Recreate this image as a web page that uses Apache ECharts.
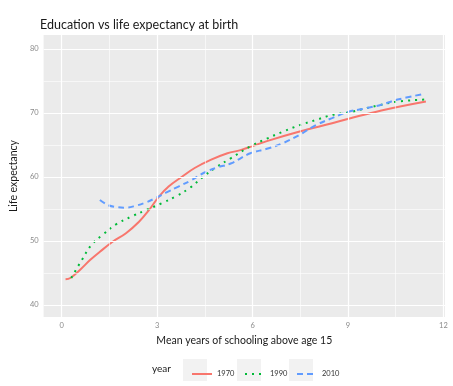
<!DOCTYPE html>
<html><head><meta charset="utf-8">
<script src="https://cdn.jsdelivr.net/npm/echarts@6/dist/echarts.min.js"></script>
<style>html,body{margin:0;padding:0;background:#fff}#c{width:453px;height:386px}</style>
</head><body><div id="c"></div>
<script>
const titleText = 'Education vs life expectancy at birth';
const xName = 'Mean years of schooling above age 15';
const yName = 'Life expectancy';
const legendTitle = 'year';
const years = ['1970', '1990', '2010'];
const xTicks = [0, 3, 6, 9, 12];
const yTicks = [40, 50, 60, 70, 80];
const xMinor = [1.5, 4.5, 7.5, 10.5];
const yMinor = [45, 55, 65, 75];

const x1970 = [0.12, 0.27, 0.58, 0.89, 1.2, 1.61, 2.02, 2.43, 2.74, 3.05, 3.36, 3.77, 4.18, 4.7, 5.21, 5.62, 6.45, 7.48, 8.5, 9.02, 10.05, 11.45];
const y1970 = [44.0, 44.2, 45.5, 47.0, 48.3, 49.9, 51.2, 53.0, 54.8, 56.9, 58.5, 60.0, 61.4, 62.7, 63.7, 64.2, 65.6, 67.1, 68.4, 69.1, 70.4, 71.8];

const x1990 = [0.3, 0.63, 0.94, 1.3, 1.71, 2.23, 2.64, 3.15, 3.6, 4.03, 4.44, 4.85, 5.31, 5.93, 6.45, 6.96, 7.48, 7.99, 8.5, 9.02, 9.53, 10.05, 10.56, 11.4];
const y1990 = [44.2, 47.0, 49.4, 51.0, 52.6, 53.9, 54.8, 55.9, 57.0, 58.3, 60.0, 61.5, 62.9, 64.8, 66.0, 67.1, 68.1, 68.9, 69.7, 70.1, 70.7, 71.3, 71.8, 72.1];

const x2010 = [1.2, 1.46, 1.71, 2.02, 2.33, 2.64, 2.95, 3.26, 3.67, 4.08, 4.49, 4.9, 5.31, 5.93, 6.45, 6.96, 7.48, 7.99, 8.5, 9.02, 9.53, 10.05, 10.56, 11.4];
const y2010 = [56.4, 55.6, 55.3, 55.2, 55.5, 56.0, 56.7, 57.5, 58.5, 59.5, 60.7, 61.5, 62.1, 63.7, 64.4, 65.3, 66.6, 68.1, 69.2, 70.2, 70.7, 71.3, 72.1, 73.0];

const zip = (xs, ys) => xs.map((x, i) => [x, ys[i]]);
const colors = ['#F8766D', '#00BA38', '#619CFF'];
const dashes = ['solid', [2, 5], [6, 4]];
const datas = [zip(x1970, y1970), zip(x1990, y1990), zip(x2010, y2010)];

const X_MIN = -0.57, X_MAX = 12.05, Y_MIN = 38.1, Y_MAX = 82.2;
const GRID = {left: 36, top: 35, right: 8, bottom: 69};
const W = 453, H = 386, TICK_PX = 3;
const xTickLen = TICK_PX * (X_MAX - X_MIN) / (W - GRID.left - GRID.right);
const yTickLen = TICK_PX * (Y_MAX - Y_MIN) / (H - GRID.top - GRID.bottom);

const chart = echarts.init(document.getElementById('c'), null, {renderer: 'canvas'});

const gridLine = (axis, vals, w) => vals.map(v => ({[axis]: v, lineStyle: {color: '#ffffff', width: w, type: 'solid'}}));
const tickStyle = {color: '#666', width: 1, type: 'solid'};
const xTickMarks = xTicks.map(v => [{coord: [v, Y_MIN], lineStyle: tickStyle}, {coord: [v, Y_MIN - yTickLen]}]);
const yTickMarks = yTicks.map(v => [{coord: [X_MIN, v], lineStyle: tickStyle}, {coord: [X_MIN - xTickLen, v]}]);

const series = [{
  type: 'line', name: '_grid', data: [], silent: true, z: 1, clip: false,
  markLine: {
    silent: true, symbol: ['none', 'none'], label: {show: false}, animation: false,
    emphasis: {disabled: true},
    data: [].concat(gridLine('xAxis', xMinor, 0.6), gridLine('yAxis', yMinor, 0.6),
                    gridLine('xAxis', xTicks, 1.2), gridLine('yAxis', yTicks, 1.2),
                    xTickMarks, yTickMarks)
  }
}];
years.forEach((y, i) => {
  series.push({
    type: 'line', name: y, data: datas[i], smooth: 0.4, symbol: 'none', showSymbol: false, z: 3,
    lineStyle: {color: colors[i], width: 2, type: dashes[i]},
    itemStyle: {color: colors[i]}
  });
});

const legendLefts = [186, 239, 291];
const legends = years.map((y, i) => ({
  show: true, data: [{name: y}], left: legendLefts[i], top: 365, itemWidth: 20, itemHeight: 10, itemGap: 0,
  selectedMode: false, z: 5,
  itemStyle: {opacity: 0, borderWidth: 0},
  lineStyle: {width: 2, type: dashes[i], color: colors[i], opacity: 1},
  textStyle: {fontFamily: 'Lato', fontSize: 7.5, color: '#333'}
}));

const axisCommon = (ticks) => ({
  axisLine: {show: false},
  axisTick: {show: false},
  axisLabel: {fontFamily: 'Lato', fontSize: 7.5, color: '#8a8a8a', margin: 5, customValues: ticks},
  splitLine: {show: false}
});

chart.setOption({
  animation: false,
  backgroundColor: '#ffffff',
  title: {text: titleText, left: 35, top: 13, textStyle: {fontFamily: 'Lato', fontSize: 12.5, fontWeight: 'normal', color: '#1a1a1a'}},
  legend: legends,
  graphic: [
    {type: 'text', left: 152, top: 364, style: {text: legendTitle, font: '10px Lato', fill: '#1a1a1a'}},
    {type: 'rect', left: 183, top: 359, shape: {width: 24, height: 22}, style: {fill: '#F2F2F2'}, z: 0},
    {type: 'rect', left: 237, top: 359, shape: {width: 24, height: 22}, style: {fill: '#F2F2F2'}, z: 0},
    {type: 'rect', left: 289, top: 359, shape: {width: 24, height: 22}, style: {fill: '#F2F2F2'}, z: 0}
  ],
  grid: {left: GRID.left, top: GRID.top, right: GRID.right, bottom: GRID.bottom, show: true, backgroundColor: '#EBEBEB', borderWidth: 0},
  xAxis: Object.assign({
    type: 'value', min: X_MIN, max: X_MAX,
    name: xName, nameLocation: 'middle', nameGap: 16,
    nameTextStyle: {fontFamily: 'Lato', fontSize: 10.5, color: '#1a1a1a'}
  }, axisCommon(xTicks)),
  yAxis: Object.assign({
    type: 'value', min: Y_MIN, max: Y_MAX,
    name: yName, nameLocation: 'middle', nameGap: 24, nameRotate: 90,
    nameTextStyle: {fontFamily: 'Lato', fontSize: 10.5, color: '#1a1a1a'}
  }, axisCommon(yTicks)),
  series: series
});
</script></body></html>
